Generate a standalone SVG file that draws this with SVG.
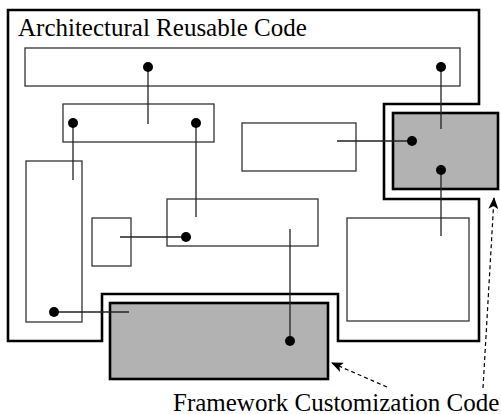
<svg xmlns="http://www.w3.org/2000/svg" width="501" height="414" viewBox="0 0 501 414">
  <defs>
    <style>
      .frame { fill: none; stroke: #000; stroke-width: 2.6; stroke-linejoin: miter; }
      .box { fill: #fff; stroke: #333; stroke-width: 1.3; }
      .custom { fill: #b2b2b2; stroke: #000; stroke-width: 2.6; }
      .wire { stroke: #222; stroke-width: 1.3; fill: none; }
      .dot { fill: #000; }
      .hint { stroke: #000; stroke-width: 1.2; stroke-dasharray: 4 3; fill: none; }
      .label { font-family: "Liberation Serif", "Times New Roman", serif; fill: #000; font-size: 25px; }
    </style>
    <marker id="arrow" viewBox="0 0 12 10" refX="11" refY="5" markerWidth="12" markerHeight="10" markerUnits="userSpaceOnUse" orient="auto">
      <path d="M0,0 L12,5 L0,10 L3,5 Z" fill="#000"/>
    </marker>
  </defs>

  <!-- reusable code region boundary -->
  <g id="architectural-region">
    <path class="frame" d="M8,10 H479 V104 H384 V199 H479 V341 H338 V294 H102 V341 H8 Z"/>
    <text class="label" x="18" y="36">Architectural Reusable Code</text>
  </g>

  <!-- reusable components -->
  <g id="node-top"><rect class="box" x="25" y="48" width="435" height="38"/></g>
  <g id="node-second"><rect class="box" x="63" y="104" width="151" height="38"/></g>
  <g id="node-left-tall"><rect class="box" x="26" y="161" width="56" height="161"/></g>
  <g id="node-mid-right"><rect class="box" x="242" y="123" width="114" height="48"/></g>
  <g id="node-small"><rect class="box" x="92" y="218" width="39" height="48"/></g>
  <g id="node-middle"><rect class="box" x="167" y="199" width="151" height="47"/></g>
  <g id="node-right-large"><rect class="box" x="347" y="218" width="122" height="103"/></g>

  <!-- customization components -->
  <g id="custom-right"><rect class="custom" x="393" y="113" width="105" height="76"/></g>
  <g id="custom-bottom"><rect class="custom" x="110" y="303" width="218" height="76"/></g>

  <!-- connections between components -->
  <g id="connectors">
    <line class="wire" x1="148" y1="67" x2="148" y2="124"/>
    <line class="wire" x1="441" y1="67" x2="441" y2="129"/>
    <line class="wire" x1="73" y1="123" x2="73" y2="180"/>
    <line class="wire" x1="196" y1="123" x2="196" y2="217"/>
    <line class="wire" x1="337" y1="141" x2="412" y2="141"/>
    <line class="wire" x1="441" y1="170" x2="441" y2="236"/>
    <line class="wire" x1="120" y1="237" x2="186" y2="237"/>
    <line class="wire" x1="290" y1="229" x2="290" y2="341"/>
    <line class="wire" x1="54" y1="312" x2="129" y2="312"/>
    <circle class="dot" cx="148" cy="67" r="5"/>
    <circle class="dot" cx="441" cy="67" r="5"/>
    <circle class="dot" cx="73" cy="123" r="5"/>
    <circle class="dot" cx="196" cy="123" r="5"/>
    <circle class="dot" cx="412" cy="141" r="5"/>
    <circle class="dot" cx="441" cy="170" r="5"/>
    <circle class="dot" cx="186" cy="237" r="5"/>
    <circle class="dot" cx="290" cy="341" r="5"/>
    <circle class="dot" cx="54" cy="312" r="5"/>
  </g>

  <!-- legend pointers -->
  <g id="legend">
    <line class="hint" x1="387" y1="387" x2="332" y2="363" marker-end="url(#arrow)"/>
    <line class="hint" x1="483" y1="388" x2="494" y2="198" marker-end="url(#arrow)"/>
    <text class="label" x="173" y="411">Framework Customization Code</text>
  </g>
</svg>
